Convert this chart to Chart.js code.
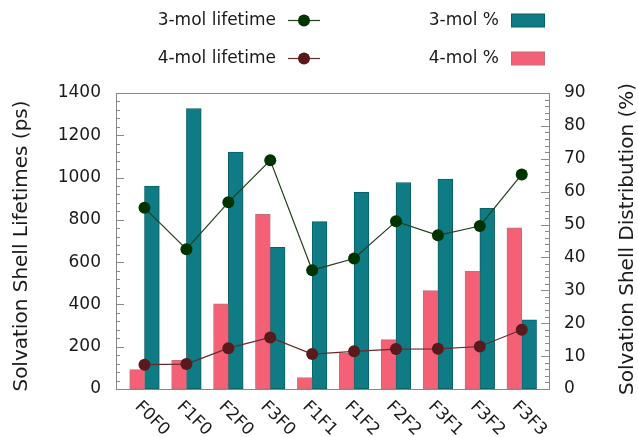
<!DOCTYPE html>
<html>
<head>
<meta charset="utf-8">
<script src="https://cdn.jsdelivr.net/npm/chart.js@4"></script>
<style>
  body { margin: 0; background: #fff; }
  #wrap { width: 638px; height: 437px; }
</style>
</head>
<body>
<div id="wrap"><canvas id="chart" width="638" height="437"></canvas></div>
<script>
const categories = ['F0F0', 'F1F0', 'F2F0', 'F3F0', 'F1F1', 'F1F2', 'F2F2', 'F3F1', 'F3F2', 'F3F3'];
const lifetime3 = [857, 661, 883, 1082, 562, 617, 793, 727, 771, 1015];
const lifetime4 = [115, 118, 193, 244, 165, 178, 189, 190, 201, 280];
const pct3 = [61.7, 85.3, 72.0, 43.1, 50.9, 59.8, 62.8, 63.8, 54.9, 21.0];
const pct4 = [5.9, 8.7, 25.9, 53.1, 3.5, 10.9, 15.0, 29.9, 35.8, 49.0];

const FONT = '"DejaVu Sans", sans-serif';
const TEXT = '#1a1a1a';
const TEAL = '#0f7b85';
const PINK = '#f46176';
const GREEN = '#003300';
const DRED = '#5a1a1c';

const pts = arr => arr.map((v, i) => ({ x: i, y: v }));

// legend, titles, rotated x labels, inner tick marks and frame
const decor = {
    id: 'decor',
    afterDraw(chart) {
        const ctx = chart.ctx;
        const a = chart.chartArea;
        const xs = chart.scales.x, yl = chart.scales.y, yr = chart.scales.y1;
        ctx.save();

        // tick marks (inward)
        ctx.strokeStyle = '#8a8a8a';
        ctx.lineWidth = 1;
        ctx.beginPath();
        for (let v = 0; v <= 1400; v += 40) {
            const y = Math.round(yl.getPixelForValue(v)) + 0.5;
            const len = v % 200 === 0 ? 8 : 4;
            ctx.moveTo(a.left, y); ctx.lineTo(a.left + len, y);
        }
        for (let v = 0; v <= 90; v += 2) {
            const y = Math.round(yr.getPixelForValue(v)) + 0.5;
            const len = v % 10 === 0 ? 8 : 4;
            ctx.moveTo(a.right, y); ctx.lineTo(a.right - len, y);
        }
        ctx.stroke();

        // frame
        ctx.strokeStyle = '#888';
        ctx.strokeRect(Math.round(a.left) + 0.5, Math.round(a.top) + 0.5,
            Math.round(a.right - a.left), Math.round(a.bottom - a.top));

        // x labels rotated clockwise
        ctx.fillStyle = TEXT;
        ctx.font = '17px ' + FONT;
        ctx.textAlign = 'left';
        ctx.textBaseline = 'top';
        categories.forEach((c, i) => {
            const x = xs.getPixelForValue(i);
            ctx.save();
            ctx.translate(x - 1, a.bottom + 9);
            ctx.rotate(Math.PI / 4);
            ctx.fillText(c, 0, 0);
            ctx.restore();
        });

        // axis titles
        ctx.font = '20px ' + FONT;
        ctx.textBaseline = 'middle';
        ctx.textAlign = 'center';
        ctx.save();
        ctx.translate(22, 246);
        ctx.rotate(-Math.PI / 2);
        ctx.fillText('Solvation Shell Lifetimes (ps)', 0, 0);
        ctx.restore();
        ctx.save();
        ctx.translate(628, 239);
        ctx.rotate(-Math.PI / 2);
        ctx.fillText('Solvation Shell Distribution (%)', 0, 0);
        ctx.restore();

        // legend
        ctx.font = '17px ' + FONT;
        ctx.textAlign = 'right';
        const rows = [20.5, 58.5];
        const lines = [['3-mol lifetime', GREEN, '#23401f'], ['4-mol lifetime', DRED, '#6a2a2c']];
        lines.forEach((l, k) => {
            const y = rows[k];
            ctx.fillStyle = TEXT;
            ctx.fillText(l[0], 276, y);
            ctx.strokeStyle = l[2];
            ctx.lineWidth = 1.2;
            ctx.beginPath(); ctx.moveTo(288, y); ctx.lineTo(320, y); ctx.stroke();
            ctx.fillStyle = l[1];
            ctx.beginPath(); ctx.arc(304, y, 6, 0, Math.PI * 2); ctx.fill();
        });
        const boxes = [['3-mol %', TEAL, '#0b5f66'], ['4-mol %', PINK, '#c0707a']];
        boxes.forEach((b, k) => {
            const y = rows[k];
            ctx.fillStyle = TEXT;
            ctx.fillText(b[0], 499, y);
            ctx.fillStyle = b[1];
            ctx.fillRect(511.5, y - 6.5, 33, 13);
            ctx.strokeStyle = b[2];
            ctx.lineWidth = 1;
            ctx.strokeRect(511.5, y - 6.5, 33, 13);
        });
        ctx.restore();
    }
};

new Chart(document.getElementById('chart'), {
    type: 'bar',
    data: {
        datasets: [
            {
                type: 'line',
                label: '3-mol lifetime',
                data: pts(lifetime3),
                yAxisID: 'y',
                borderColor: '#23401f',
                borderWidth: 1.2,
                backgroundColor: GREEN,
                pointBackgroundColor: GREEN,
                pointBorderWidth: 0,
                pointRadius: 6,
                order: 0
            },
            {
                type: 'line',
                label: '4-mol lifetime',
                data: pts(lifetime4),
                yAxisID: 'y',
                borderColor: '#6a2a2c',
                borderWidth: 1.2,
                backgroundColor: DRED,
                pointBackgroundColor: DRED,
                pointBorderWidth: 0,
                pointRadius: 6,
                order: 0
            },
            {
                label: '4-mol %',
                data: pts(pct4),
                yAxisID: 'y1',
                backgroundColor: PINK,
                borderColor: '#c0707a',
                borderWidth: 1,
                borderSkipped: false,
                barThickness: 14.8,
                order: 1
            },
            {
                label: '3-mol %',
                data: pts(pct3),
                yAxisID: 'y1',
                backgroundColor: TEAL,
                borderColor: '#0b5f66',
                borderWidth: 1,
                borderSkipped: false,
                barThickness: 14.8,
                order: 1
            }
        ]
    },
    options: {
        responsive: false,
        animation: false,
        layout: { padding: { top: 93, bottom: 48, left: 0, right: 0 } },
        plugins: {
            legend: { display: false },
            tooltip: { enabled: false }
        },
        scales: {
            x: {
                type: 'linear',
                display: false,
                offset: false,
                min: -0.68,
                max: 9.65
            },
            y: {
                position: 'left',
                min: 0,
                max: 1400,
                grid: { display: false, drawTicks: false },
                border: { display: false },
                ticks: { stepSize: 200, padding: 15, color: TEXT, font: { family: FONT, size: 17 }, callback: v => String(v) },
                afterFit: s => { s.width = 116; }
            },
            y1: {
                position: 'right',
                min: 0,
                max: 90,
                grid: { display: false, drawTicks: false },
                border: { display: false },
                ticks: { stepSize: 10, padding: 15, color: TEXT, font: { family: FONT, size: 17 }, callback: v => String(v) },
                afterFit: s => { s.width = 89; }
            }
        }
    },
    plugins: [decor]
});
</script>
</body>
</html>
